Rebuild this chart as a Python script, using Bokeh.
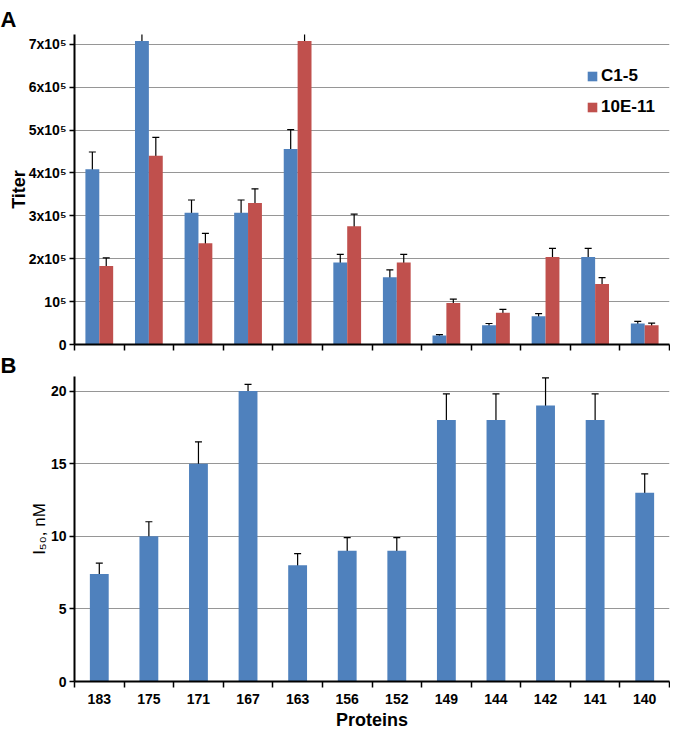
from bokeh.plotting import figure
from bokeh.models import (ColumnDataSource, FactorRange, Range1d, LinearAxis, CategoricalAxis,
                          FixedTicker, Whisker, TeeHead, Legend, LegendItem, Grid, Title,
                          CustomLabelingPolicy)
from bokeh.transform import dodge
from bokeh.layouts import column
from bokeh.embed import file_html
from bokeh.resources import INLINE

# ---------------- data ----------------
proteins = ["183", "175", "171", "167", "163", "156", "152", "149", "144", "142", "141", "140"]

c15_titer = [409000, 708000, 307000, 307000, 456000, 191000, 157000, 21000, 45000, 66000, 204000, 49000]
c15_err = [40000, 72000, 30000, 30000, 45000, 19000, 17000, 2000, 4000, 6000, 20000, 5000]
e10_titer = [183000, 440000, 236000, 330000, 708000, 276000, 191000, 97000, 74000, 204000, 141000, 45000]
e10_err = [19000, 43000, 23000, 33000, 86000, 28000, 19000, 9000, 8000, 20000, 15000, 5000]

i50 = [7.4, 10, 15, 20, 8, 9, 9, 18, 18, 19, 18, 13]
i50_err_up = [0.75, 1.0, 1.5, 0.46, 0.8, 0.9, 0.9, 1.8, 1.8, 1.9, 1.8, 1.3]
i50_err_down = [0.75, 1.0, 1.5, 2.06, 0.8, 0.9, 0.9, 1.8, 1.8, 1.9, 1.8, 1.3]

titer_ticks = [0, 100000, 200000, 300000, 400000, 500000, 600000, 700000]
titer_tick_labels = ["0", "10\u2075", "2x10\u2075", "3x10\u2075", "4x10\u2075", "5x10\u2075", "6x10\u2075", "7x10\u2075"]
i50_ticks = [0, 5, 10, 15, 20]

series_names = ["C1-5", "10E-11"]
panel_letters = ["A", "B"]

# ---------------- style ----------------
FONT = "Liberation Sans"
BLUE = "#4F81BD"
RED = "#C0504D"
GRID = "#969696"
FRAME_W = 595
LEFT = 74

hide_all = CustomLabelingPolicy(code="for (const i of Array.from(indices)) { indices.unset(i) }")


def make_fig(frame_h, top, bottom, y_end, letter, letter_standoff):
    p = figure(x_range=FactorRange(*proteins), y_range=Range1d(0, y_end),
               frame_width=FRAME_W, frame_height=frame_h,
               min_border_left=LEFT, min_border_right=1,
               min_border_top=top, min_border_bottom=bottom,
               x_axis_location=None, y_axis_location=None,
               output_backend="svg", toolbar_location=None)
    p.grid.grid_line_color = None
    p.title = Title(text=letter, align="left", offset=-LEFT, standoff=letter_standoff,
                    text_font=FONT, text_font_style="bold", text_font_size="22px",
                    text_color="black")
    p.outline_line_color = None
    p.background_fill_color = "white"
    p.border_fill_color = "white"
    # category boundaries, in the factor range's synthetic coordinates
    edge_axis = LinearAxis(ticker=FixedTicker(ticks=list(range(len(proteins) + 1))),
                           major_label_policy=hide_all,
                           major_label_text_font_size="0px", major_label_standoff=0,
                           major_tick_out=6, major_tick_in=0, major_tick_line_width=1.5,
                           minor_tick_line_color=None, axis_line_width=2,
                           axis_line_color="black", major_tick_line_color="black")
    p.add_layout(edge_axis, "below")
    return p


def style_yaxis(ax):
    ax.major_tick_out = 5
    ax.major_tick_in = 0
    ax.major_tick_line_width = 1.5
    ax.minor_tick_line_color = None
    ax.axis_line_width = 2
    ax.axis_line_color = "black"
    ax.major_tick_line_color = "black"
    ax.major_label_text_font = FONT
    ax.major_label_text_font_style = "bold"
    ax.major_label_text_font_size = "14px"
    ax.major_label_text_color = "black"
    ax.major_label_standoff = 3
    ax.axis_label_text_font = FONT
    ax.axis_label_text_color = "black"


# ---------------- panel A ----------------
src_a = ColumnDataSource(dict(
    proteins=proteins,
    c15=c15_titer,
    c15_lo=[v - e for v, e in zip(c15_titer, c15_err)],
    c15_hi=[v + e for v, e in zip(c15_titer, c15_err)],
    e10=e10_titer,
    e10_lo=[v - e for v, e in zip(e10_titer, e10_err)],
    e10_hi=[v + e for v, e in zip(e10_titer, e10_err)],
))

pa = make_fig(310, 34, 8, 723000, panel_letters[0], 5)
ya = LinearAxis(ticker=FixedTicker(ticks=titer_ticks),
                major_label_overrides={t: l for t, l in zip(titer_ticks, titer_tick_labels)},
                axis_label="Titer")
style_yaxis(ya)
ya.axis_label_text_font_size = "18px"
ya.axis_label_text_font_style = "bold"
ya.axis_label_standoff = -3
pa.add_layout(ya, "left")
pa.add_layout(Grid(dimension=1, ticker=ya.ticker, grid_line_color=GRID, grid_line_width=1))

r1 = pa.vbar(x=dodge("proteins", -0.14, range=pa.x_range), top="c15", width=0.28,
             source=src_a, fill_color=BLUE, line_color=None)
r2 = pa.vbar(x=dodge("proteins", 0.14, range=pa.x_range), top="e10", width=0.28,
             source=src_a, fill_color=RED, line_color=None)

for off, lo, hi in [(-0.14, "c15_lo", "c15_hi"), (0.14, "e10_lo", "e10_hi")]:
    w = Whisker(base=dodge("proteins", off, range=pa.x_range), lower=lo, upper=hi, source=src_a,
                line_color="black", line_width=1.2,
                upper_head=TeeHead(size=7, line_color="black", line_width=1.2),
                lower_head=TeeHead(size=7, line_color="black", line_width=1.2))
    pa.add_layout(w)

leg = Legend(items=[LegendItem(label=series_names[0], renderers=[r1]),
                    LegendItem(label=series_names[1], renderers=[r2])],
             location=(512, 227), orientation="vertical",
             glyph_width=12, glyph_height=12, label_height=12, label_standoff=3,
             spacing=11, padding=0, margin=0,
             border_line_color=None, background_fill_alpha=0,
             label_text_font=FONT, label_text_font_style="bold",
             label_text_font_size="17px", label_text_color="black")
pa.add_layout(leg)

# ---------------- panel B ----------------
src_b = ColumnDataSource(dict(
    proteins=proteins,
    i50=i50,
    lo=[v - e for v, e in zip(i50, i50_err_down)],
    hi=[v + e for v, e in zip(i50, i50_err_up)],
))

pb = make_fig(305, 23, 47, 21, panel_letters[1], -3)
yb = LinearAxis(ticker=FixedTicker(ticks=i50_ticks), axis_label="I\u2085\u2080, nM")
style_yaxis(yb)
yb.axis_label_text_font_size = "17px"
yb.axis_label_text_font_style = "normal"
yb.axis_label_standoff = -1
pb.add_layout(yb, "left")
pb.add_layout(Grid(dimension=1, ticker=yb.ticker, grid_line_color=GRID, grid_line_width=1))

pb.vbar(x="proteins", top="i50", width=0.38, source=src_b, fill_color=BLUE, line_color=None)
pb.add_layout(Whisker(base="proteins", lower="lo", upper="hi", source=src_b,
                      line_color="black", line_width=1.2,
                      upper_head=TeeHead(size=7, line_color="black", line_width=1.2),
                      lower_head=TeeHead(size=7, line_color="black", line_width=1.2)))

xb = CategoricalAxis(axis_label="Proteins", axis_line_color=None, major_tick_line_color=None,
                     minor_tick_line_color=None, major_label_standoff=0,
                     major_label_text_font=FONT, major_label_text_font_style="bold",
                     major_label_text_font_size="14px", major_label_text_color="black",
                     axis_label_text_font=FONT, axis_label_text_font_style="bold",
                     axis_label_text_font_size="18px", axis_label_text_color="black",
                     axis_label_standoff=3)
pb.add_layout(xb, "below")

layout = column(pa, pb, spacing=0)
open("out.html", "w").write(file_html(layout, INLINE))
